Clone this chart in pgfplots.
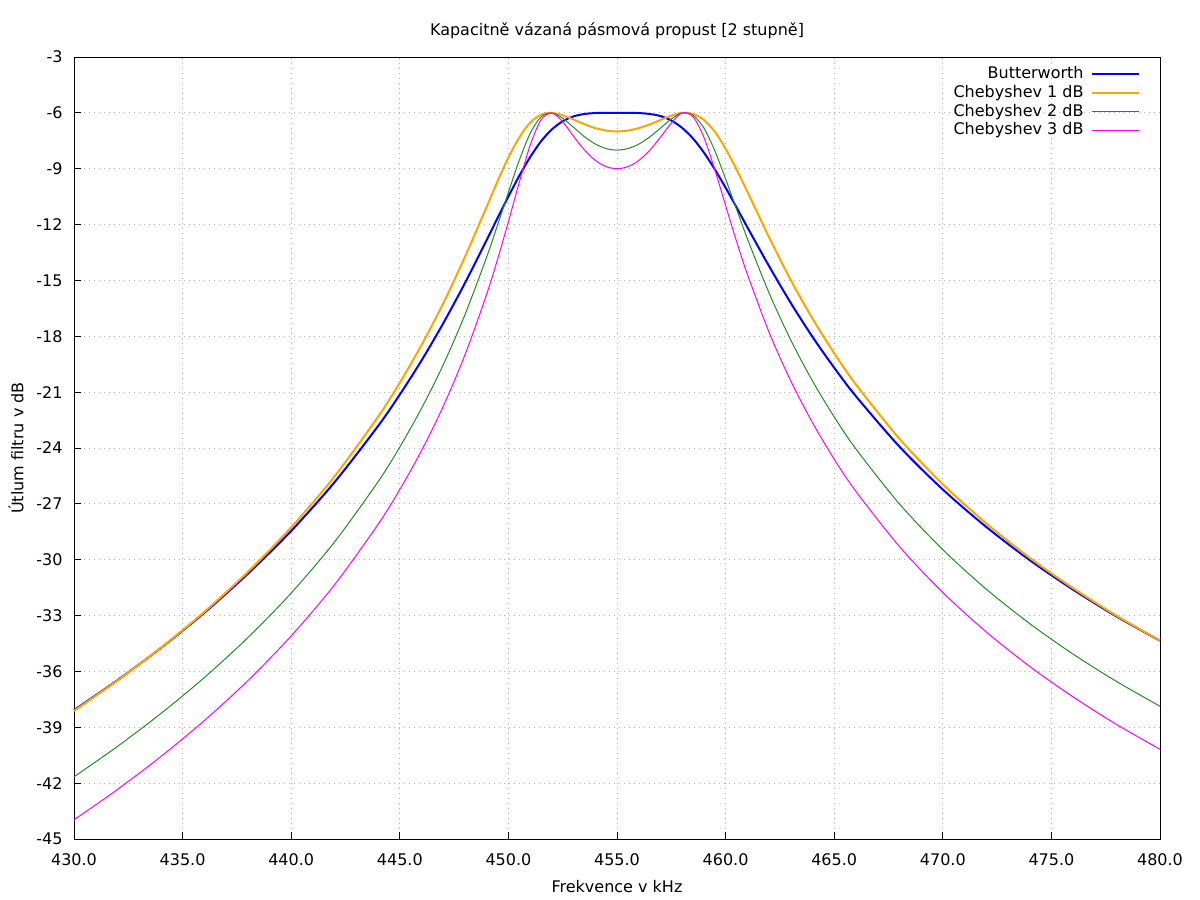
\documentclass[border=0pt]{standalone}
\usepackage{pgfplots}
\pgfplotsset{compat=1.18}
\usepackage{pgfplotstable}
\usepackage{fontspec}
\setmainfont{DejaVu Sans}
\definecolor{gpblue}{RGB}{0,0,255}
\definecolor{gporange}{RGB}{255,165,0}
\definecolor{gpgreen}{RGB}{34,139,34}
\definecolor{gpmagenta}{RGB}{255,0,255}
\pgfplotstableread{
f B C1 C2 C3
430 -38.08 -38.12 -41.66 -43.97
432 -36.47 -36.49 -40.03 -42.34
434 -34.74 -34.73 -38.26 -40.57
436 -32.85 -32.80 -36.33 -38.64
438 -30.76 -30.66 -34.19 -36.50
440 -28.45 -28.26 -31.79 -34.09
442 -25.83 -25.52 -29.04 -31.34
444 -22.82 -22.32 -25.81 -28.10
445 -21.13 -20.49 -23.95 -26.23
446 -19.30 -18.47 -21.87 -24.14
447 -17.30 -16.23 -19.53 -21.76
448 -15.14 -13.73 -16.84 -19.00
449 -12.83 -11.04 -13.74 -15.74
449.5 -11.65 -9.68 -12.03 -13.87
450 -10.49 -8.40 -10.27 -11.85
450.5 -9.38 -7.32 -8.55 -9.73
451 -8.38 -6.53 -7.11 -7.75
451.5 -7.53 -6.10 -6.22 -6.38
452 -6.89 -6.00 -6.01 -6.01
452.5 -6.45 -6.13 -6.29 -6.48
453 -6.19 -6.36 -6.78 -7.26
453.5 -6.06 -6.61 -7.28 -7.99
454 -6.01 -6.82 -7.67 -8.55
454.5 -6.00 -6.95 -7.92 -8.89
455 -6.00 -7.00 -8.00 -9.00
455.5 -6.00 -6.95 -7.92 -8.89
456 -6.01 -6.82 -7.68 -8.56
456.5 -6.06 -6.62 -7.30 -8.02
457 -6.17 -6.38 -6.82 -7.31
457.5 -6.41 -6.15 -6.33 -6.55
458 -6.81 -6.00 -6.00 -6.00
458.5 -7.38 -6.06 -6.13 -6.21
459 -8.13 -6.38 -6.81 -7.31
459.5 -9.03 -7.01 -8.03 -9.04
460 -10.02 -7.93 -9.55 -10.98
460.5 -11.07 -9.03 -11.16 -12.89
461 -12.14 -10.23 -12.75 -14.66
462 -14.23 -12.68 -15.67 -17.78
463 -16.21 -14.98 -18.20 -20.40
464 -18.03 -17.05 -20.40 -22.64
465 -19.69 -18.91 -22.33 -24.60
466 -21.22 -20.59 -24.05 -26.33
468 -23.92 -23.50 -27.00 -29.29
470 -26.23 -25.95 -29.46 -31.76
472 -28.24 -28.05 -31.58 -33.88
474 -30.02 -29.90 -33.43 -35.73
476 -31.61 -31.53 -35.07 -37.37
478 -33.05 -33.01 -36.54 -38.85
480 -34.35 -34.34 -37.87 -40.18
}\datatable
\begin{document}
\fontsize{8pt}{9.6pt}\selectfont
\begin{tikzpicture}
\useasboundingbox (0,0) rectangle (600pt,450pt);
\begin{axis}[
  at={(37pt,30.5pt)}, anchor=south west,
  scale only axis, width=543pt, height=391pt,
  xmin=430, xmax=480, ymin=-45, ymax=-3,
  clip=false,
  xtick={430,435,...,480},
  xticklabels={430.0,435.0,440.0,445.0,450.0,455.0,460.0,465.0,470.0,475.0,480.0},
  ytick={-45,-42,...,-3},
  yticklabels={-45,-42,-39,-36,-33,-30,-27,-24,-21,-18,-15,-12,-9,-6,-3},
  xtick pos=bottom, ytick pos=left,
  tick align=inside,
  major tick length=3.5pt,
  tick style={black, line width=0.5pt},
  axis line style={black, line width=0.5pt},
  xticklabel style={anchor=base, yshift=-13pt, inner sep=0pt, font=\fontsize{8pt}{9.6pt}\selectfont},
  yticklabel style={anchor=east, xshift=-5.5pt, inner sep=0pt, font=\fontsize{8pt}{9.6pt}\selectfont},
  xmajorgrids, ymajorgrids,
  major grid style={gray!60, line width=0.5pt, dash pattern=on 0.5pt off 2pt},
  legend plot pos=right,
  legend cell align=right,
  legend image code/.code={\draw[#1] (0pt,0pt) -- (23.5pt,0pt);},
  legend style={draw=none, fill=none, at={(1,1)}, anchor=north east,
    xshift=-10pt, yshift=-4.6pt, inner sep=0pt, row sep=1.85pt, column sep=3.5pt,
    font=\fontsize{8pt}{9.6pt}\selectfont,
    nodes={inner sep=0pt, text height=6pt, text depth=1.5pt}},
]
\addplot[gpblue, line width=1pt, smooth] table[x=f, y=B] {\datatable};
\addlegendentry{Butterworth}
\addplot[gporange, line width=1pt, smooth] table[x=f, y=C1] {\datatable};
\addlegendentry{Chebyshev 1 dB}
\addplot[gpgreen, line width=0.5pt, smooth] table[x=f, y=C2] {\datatable};
\addlegendentry{Chebyshev 2 dB}
\addplot[gpmagenta, line width=0.5pt, smooth] table[x=f, y=C3] {\datatable};
\addlegendentry{Chebyshev 3 dB}
\node[anchor=base, font=\fontsize{8pt}{9.6pt}\selectfont] at ([yshift=11pt]axis description cs:0.5,1) {Kapacitně vázaná pásmová propust [2 stupně]};
\node[anchor=base, font=\fontsize{8pt}{9.6pt}\selectfont] at ([yshift=-26.5pt]axis description cs:0.5,0) {Frekvence v kHz};
\node[anchor=base, rotate=90, font=\fontsize{8pt}{9.6pt}\selectfont] at ([xshift=-25.3pt]axis description cs:0,0.5) {Útlum filtru v dB};
\end{axis}
\end{tikzpicture}
\end{document}
